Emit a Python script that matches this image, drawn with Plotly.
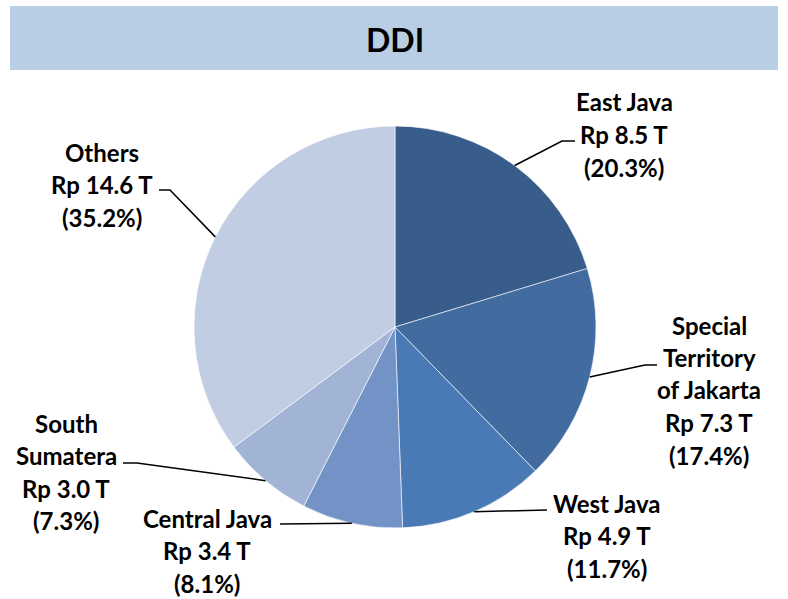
import math
import plotly.graph_objects as go

# ---- data ----
regions = ["East Java", "Special Territory of Jakarta", "West Java",
           "Central Java", "South Sumatera", "Others"]
label_lines = [["East Java"], ["Special", "Territory", "of Jakarta"], ["West Java"],
               ["Central Java"], ["South", "Sumatera"], ["Others"]]
amounts = [8.5, 7.3, 4.9, 3.4, 3.0, 14.6]      # Rp trillion
shares = [20.3, 17.4, 11.7, 8.1, 7.3, 35.2]    # percent
title_text = "DDI"

# ---- style ----
colors = ["#385D8A", "#426CA0", "#4A7AB6", "#7393C6", "#A1B4D6", "#C1CDE2"]
W, H = 788, 599
CX, CY, R = 395, 327, 201
FONT = "Lato"
FS = 24
LINE_H = 32.5
label_style = [
    dict(tx=624, ty=102, elbow=(562, 141), tail=(575, 141)),
    dict(tx=709, ty=325, elbow=(645, 365), tail=(657, 365)),
    dict(tx=607, ty=503, elbow=None, tail=(547, 510)),
    dict(tx=207, ty=518, elbow=None, tail=(280, 524)),
    dict(tx=66, ty=423, elbow=(137, 463), tail=(123, 463)),
    dict(tx=102, ty=152, elbow=(170, 190), tail=(159, 190)),
]


def px(x):
    return x / W


def py(y):
    return 1 - y / H


fig = go.Figure()
fig.add_trace(go.Pie(
    labels=regions, values=shares, sort=False, direction="clockwise", rotation=0,
    marker=dict(colors=colors, line=dict(color="white", width=0.6)),
    textinfo="none", hoverinfo="label+value", showlegend=False,
    domain=dict(x=[px(CX - R), px(CX + R)], y=[py(CY + R), py(CY - R)]),
))

shapes = []
annotations = []

# title bar
shapes.append(dict(type="rect", xref="paper", yref="paper",
                   x0=px(10), x1=px(778), y0=py(70), y1=py(6),
                   fillcolor="#B9CDE5", line=dict(width=0), layer="below"))
annotations.append(dict(text=title_text, x=px(395), y=py(40), xref="paper", yref="paper",
                        showarrow=False, xanchor="center", yanchor="middle",
                        font=dict(family=FONT, size=32, color="black", weight="bold")))

total = sum(shares)
cum = 0.0
for name_lines, amt, sh, st in zip(label_lines, amounts, shares, label_style):
    mid = (cum + sh / 2) / total * 360.0
    cum += sh
    sx = CX + R * math.sin(math.radians(mid))
    sy = CY - R * math.cos(math.radians(mid))
    path = f"M {px(sx)} {py(sy)}"
    if st["elbow"]:
        path += f" L {px(st['elbow'][0])} {py(st['elbow'][1])}"
    path += f" L {px(st['tail'][0])} {py(st['tail'][1])}"
    shapes.append(dict(type="path", xref="paper", yref="paper", path=path,
                       line=dict(color="black", width=1.5)))
    lines = name_lines + [f"Rp {amt:.1f} T", f"({sh:.1f}%)"]
    for i, t in enumerate(lines):
        annotations.append(dict(text=t, x=px(st["tx"]), y=py(st["ty"] + i * LINE_H),
                                xref="paper", yref="paper", showarrow=False,
                                xanchor="center", yanchor="middle",
                                font=dict(family=FONT, size=FS, color="black", weight="bold")))

fig.update_layout(
    width=W, height=H, margin=dict(l=0, r=0, t=0, b=0),
    paper_bgcolor="white", plot_bgcolor="white",
    shapes=shapes, annotations=annotations,
)

fig.write_html("out.html", config={"displayModeBar": False},
               post_script="document.body.style.margin='0';")
